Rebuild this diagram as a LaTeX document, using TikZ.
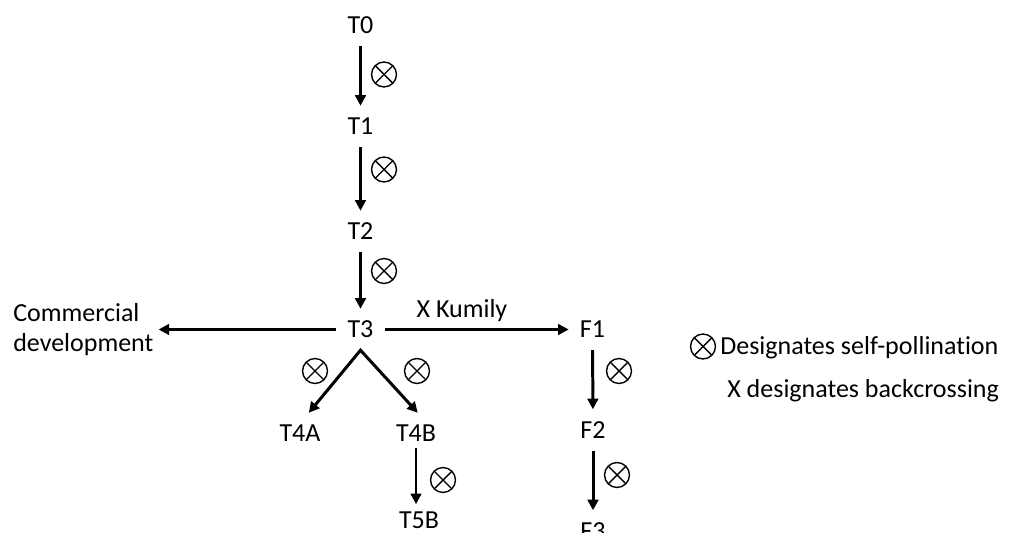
\documentclass[tikz,border=0pt]{standalone}
\usepackage{fontspec}
\setmainfont{Carlito}[Ligatures=NoCommon]
\usetikzlibrary{arrows.meta,positioning}

\begin{document}
\begin{tikzpicture}[x=0.02cm,y=-0.02cm,>={Triangle[length=6pt,width=6pt]},
  every node/.style={font=\fontsize{14.8}{17}\selectfont},
  gen/.style={text height=9.6pt,text depth=0pt,inner xsep=6.2pt,inner ysep=6.8pt},
  arr/.style={->,line width=1.7pt},
  selfing/.style={circle,draw,line width=0.8pt,minimum size=14.2pt,inner sep=0pt,
    path picture={\draw[line width=0.8pt] (path picture bounding box.north west) -- (path picture bounding box.south east)
      (path picture bounding box.north east) -- (path picture bounding box.south west);}}]
\useasboundingbox (0,0) rectangle (1014,533);
\clip (0,0) rectangle (1014,533);
% selfing line
\node[gen] (T0) at (360.5,25.5) {T0};
\node[gen] (T1) at (360.5,126.5) {T1};
\node[gen] (T2) at (360.5,231.5) {T2};
\node[gen] (T3) at (360.5,329.5) {T3};
\draw[arr] (T0) -- (T1);
\draw[arr] (T1) -- (T2);
\draw[arr] (T2) -- (T3);
\node[selfing] (s1) at (384,74.5) {};
\node[selfing] (s2) at (384,169.5) {};
\node[selfing] (s3) at (384,271) {};
% commercial
\node[anchor=west,align=left,inner xsep=2.8pt,inner ysep=0pt] (dev) at (8,330) {Commercial\\development};
\draw[arr] (T3.west) -- (T3.west -| dev.east);
% backcross
\node[gen] (F1) at (592.5,329.5) {F1};
\node[gen] (F2) at (593,430) {F2};
\node[gen] (F3) at (593,531) {F3};
\draw[arr] (T3) -- node[gen,above,pos=.42,inner ysep=6.2pt] (xk) {X Kumily} (F1);
\draw[arr] (F1) -- (F2);
\draw[arr] (F2) -- (F3);
\node[selfing] (s4) at (619,371) {};
\node[selfing] (s5) at (617,475) {};
% split
\node[gen] (T4A) at (300,433.5) {T4A};
\node[gen] (T4B) at (416,433.5) {T4B};
\node[gen] (T5B) at (419,520) {T5B};
\draw[arr,<->] ([xshift=5pt]T4A.north) -- (T3.south) -- ([xshift=1pt]T4B.north);
\draw[arr,shorten <=-3.4pt,shorten >=-2.8pt] (T4B) -- (T4B |- T5B.north);
\node[selfing] (s6) at (315,371) {};
\node[selfing] (s7) at (417,371) {};
\node[selfing] (s8) at (443,480) {};
% legend
\node[selfing] (lg) at (703,346.5) {};
\node[gen,anchor=west,inner xsep=0pt] (lg1) at (720,346.5) {Designates self-pollination};
\node[gen,anchor=west,inner xsep=0pt] (lg2) at (727,389) {X designates backcrossing};
\end{tikzpicture}
\end{document}
